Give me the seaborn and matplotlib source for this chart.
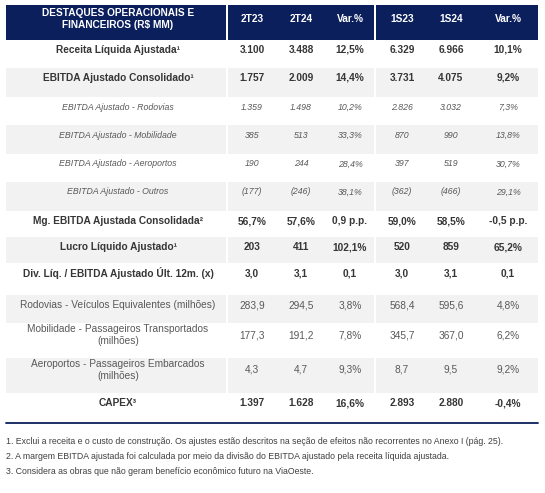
import numpy as np
import matplotlib
matplotlib.use("Agg")
import matplotlib.pyplot as plt
import seaborn as sns

# dados da tabela
colunas = ["2T23", "2T24", "Var.%", "1S23", "1S24", "Var.%"]
titulo = "DESTAQUES OPERACIONAIS E\nFINANCEIROS (R$ MM)"
rotulos = [
    "Receita Líquida Ajustada¹",
    "EBITDA Ajustado Consolidado¹",
    "EBITDA Ajustado - Rodovias",
    "EBITDA Ajustado - Mobilidade",
    "EBITDA Ajustado - Aeroportos",
    "EBITDA Ajustado - Outros",
    "Mg. EBITDA Ajustada Consolidada²",
    "Lucro Líquido Ajustado¹",
    "Div. Líq. / EBITDA Ajustado Últ. 12m. (x)",
    "Rodovias - Veículos Equivalentes (milhões)",
    "Mobilidade - Passageiros Transportados\n(milhões)",
    "Aeroportos - Passageiros Embarcados\n(milhões)",
    "CAPEX³",
]
estilos = ["bold", "bold", "italic", "italic", "italic", "italic",
           "bold", "bold", "bold", "normal", "normal", "normal", "bold"]
v_2t23 = ["3.100", "1.757", "1.359", "385", "190", "(177)", "56,7%", "203", "3,0", "283,9", "177,3", "4,3", "1.397"]
v_2t24 = ["3.488", "2.009", "1.498", "513", "244", "(246)", "57,6%", "411", "3,1", "294,5", "191,2", "4,7", "1.628"]
v_var_t = ["12,5%", "14,4%", "10,2%", "33,3%", "28,4%", "38,1%", "0,9 p.p.", "102,1%", "0,1", "3,8%", "7,8%", "9,3%", "16,6%"]
v_1s23 = ["6.329", "3.731", "2.826", "870", "397", "(362)", "59,0%", "520", "3,0", "568,4", "345,7", "8,7", "2.893"]
v_1s24 = ["6.966", "4.075", "3.032", "990", "519", "(466)", "58,5%", "859", "3,1", "595,6", "367,0", "9,5", "2.880"]
v_var_s = ["10,1%", "9,2%", "7,3%", "13,8%", "30,7%", "29,1%", "-0,5 p.p.", "65,2%", "0,1", "4,8%", "6,2%", "9,2%", "-0,4%"]
notas = [
    "1. Exclui a receita e o custo de construção. Os ajustes estão descritos na seção de efeitos não recorrentes no Anexo I (pág. 25).",
    "2. A margem EBITDA ajustada foi calculada por meio da divisão do EBITDA ajustado pela receita líquida ajustada.",
    "3. Considera as obras que não geram benefício econômico futuro na ViaOeste.",
]
valores = [v_2t23, v_2t24, v_var_t, v_1s23, v_1s24, v_var_s]

sns.set_theme(style="white")
plt.rcParams["font.family"] = ["Liberation Sans", "DejaVu Sans"]

W, H = 545, 493
fig = plt.figure(figsize=(W / 100, H / 100), dpi=100)
ax = fig.add_axes([0, 0, 1, 1])
ax.set_xlim(0, W)
ax.set_ylim(H, 0)
ax.axis("off")

azul = "#0B1F5C"
cinza = "#F2F2F2"

# layout (pixels)
x_esq, x_dir = 6, 538
sep1, sep2 = 227, 375
x_rot = 118
x_cols = [252, 301, 350, 402, 451, 508]
secoes = [(x_esq, sep1 - 1), (sep1 + 1, sep2 - 1), (sep2 + 1, x_dir)]
topo_cab, base_cab = 5, 40
alturas = [28, 29, 28, 29, 28, 29, 26, 26, 32, 28, 35, 35, 28]

# cabeçalho
for a, b in secoes:
    ax.add_patch(plt.Rectangle((a, topo_cab), b - a, base_cab - topo_cab, color=azul, lw=0))
ax.text(x_rot, 19, titulo, ha="center", va="center", color="white",
        fontsize=7.3, fontweight="bold", linespacing=1.3)
for x, c in zip(x_cols, colunas):
    ax.text(x, 19.5, c, ha="center", va="center", color="white", fontsize=7.3, fontweight="bold")

# linhas
y = base_cab
for i, (rot, est, h) in enumerate(zip(rotulos, estilos, alturas)):
    if i % 2 == 1:
        for a, b in secoes:
            ax.add_patch(plt.Rectangle((a, y), b - a, h, color=cinza, lw=0))
    if est == "bold":
        kw = dict(fontweight="bold", color="#363636", fontsize=7.3)
    elif est == "italic":
        kw = dict(fontstyle="italic", color="#595959", fontsize=6.3)
    else:
        kw = dict(color="#595959", fontsize=7.3)
    if "\n" in rot:
        ty = y + 12
        ax.text(x_rot, ty, rot, ha="center", va="center", linespacing=1.25, **kw)
    else:
        ty = y + 10
        ax.text(x_rot, ty, rot, ha="center", va="center", **kw)
    for x, col in zip(x_cols, valores):
        ax.text(x, ty, col[i], ha="center", va="center", **kw)
    y += h

# linha final e notas
ax.plot([x_esq, x_dir], [423, 423], color=azul, lw=1.3)
for k, n in enumerate(notas):
    ax.text(x_esq, 441 + 15.5 * k, n, ha="left", va="center", color="#404040", fontsize=6.35)

fig.savefig("out.png", dpi=100)
